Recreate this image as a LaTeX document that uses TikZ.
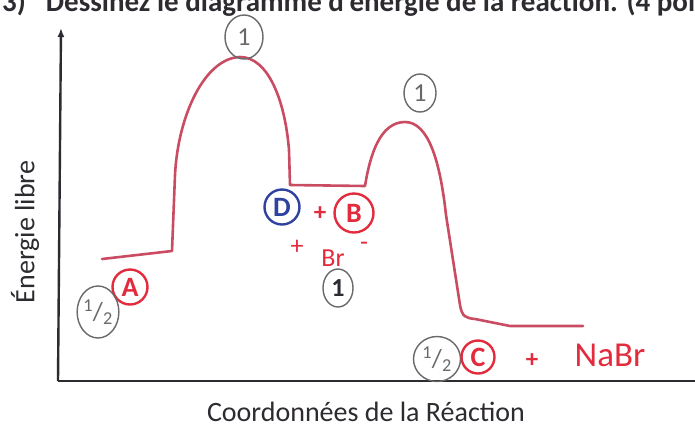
\documentclass[tikz,border=0pt]{standalone}
\usepackage{fontspec}
\setmainfont{Carlito}
\setsansfont{Carlito}
\usetikzlibrary{arrows.meta, positioning, shapes.geometric}

\definecolor{curvered}{RGB}{202,76,98}
\definecolor{penred}{RGB}{226,44,62}
\definecolor{penblue}{RGB}{48,66,160}
\definecolor{pengray}{RGB}{105,105,105}
\definecolor{axisgray}{RGB}{45,42,48}

\begin{document}
\begin{tikzpicture}[x=1pt, y=-1pt,
    lbl/.style={circle, draw, line width=2.4pt, minimum size=35pt, inner sep=0pt,
        font=\sffamily\bfseries\fontsize{28}{28}\selectfont},
    redlbl/.style={lbl, draw=penred, text=penred},
    bluelbl/.style={lbl, draw=penblue, text=penblue},
    graylbl/.style={ellipse, draw=pengray, line width=1.4pt, inner sep=0pt,
        text=pengray, font=\sffamily\fontsize{26}{26}\selectfont},
    pentxt/.style={text=penred, inner sep=0pt, font=\sffamily\bfseries\fontsize{25}{25}\selectfont},
    axis/.style={line width=2.4pt, draw=axisgray},
    energy/.style={line width=2.6pt, draw=curvered, line join=round, line cap=round}
]
    \clip (0,0) rectangle (695,432);

    % title, cut by the page top
    \node[anchor=base west, inner sep=0pt, text=axisgray,
        font=\bfseries\fontsize{29}{29}\selectfont] (title) at (2,11)
        {3)\hspace{20pt}Dessinez le diagramme d'énergie de la réaction. (4 points)};

    % axes
    \coordinate (origin) at (58,381);
    \coordinate (ytop) at (61,28);
    \coordinate (xend) at (695,381);
    \draw[axis, -{Latex[length=9pt,width=7pt]}] (origin) -- (ytop);
    \draw[axis] (origin) -- (xend);

    \node[rotate=90, text=axisgray, font=\fontsize{28}{28}\selectfont] (ylab) at (25,232) {Énergie libre};
    \node[text=axisgray, font=\fontsize{28}{28}\selectfont] (xlab) at (366,412) {Coordonnées de la Réaction};

    % energy curve
    \draw[energy] (102,259) -- (172,251) -- (175,175)
        .. controls (178,115) and (205,58) .. (240,57)
        .. controls (268,57) and (285,100) .. (289,150)
        -- (290,185) -- (365,186)
        .. controls (370,155) and (380,122) .. (405,122)
        .. controls (428,122) and (440,160) .. (446,215)
        -- (460,305)
        .. controls (462,317) and (466,318) .. (475,319)
        -- (510,326) -- (583,326);

    % labels
    \node[graylbl, minimum width=38pt, minimum height=44pt] (top1) at (244,37) {1};
    \node[graylbl, minimum width=32pt, minimum height=38pt] (top2) at (420,93) {1};
    \node[bluelbl] (d) at (282,207) {D};
    \node[pentxt] (plus1) at (320,214) {+};
    \node[redlbl, minimum size=39pt] (b) at (354,213) {B};
    \node[pentxt, font=\sffamily\fontsize{26}{26}\selectfont] (plus2) at (297,247) {+};
    \node[pentxt, font=\sffamily\fontsize{26}{26}\selectfont] (br) at (333,258) {Br};
    \node[pentxt, font=\sffamily\fontsize{26}{26}\selectfont] (minus) at (364,246) {-};
    \node[graylbl, minimum width=30pt, minimum height=38pt, text=axisgray,
        font=\sffamily\bfseries\fontsize{26}{26}\selectfont] (mid1) at (338,288) {1};
    \node[redlbl] (a) at (130,287) {A};
    \node[graylbl, minimum width=40pt, minimum height=52pt] (halfa) at (98,312)
        {\textsuperscript{1}/\textsubscript{2}};
    \node[graylbl, minimum width=47pt, minimum height=45pt] (halfc) at (437,359)
        {\textsuperscript{1}/\textsubscript{2}};
    \node[redlbl, minimum size=33pt] (c) at (478,357) {C};
    \node[pentxt] (plus3) at (532,361) {+};
    \node[pentxt, font=\sffamily\fontsize{35}{35}\selectfont] (nabr) at (610,355) {NaBr};
\end{tikzpicture}
\end{document}
